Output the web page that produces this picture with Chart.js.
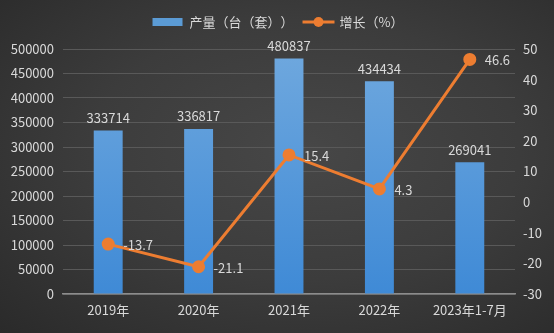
<!DOCTYPE html>
<html>
<head>
<meta charset="utf-8">
<script src="https://cdn.jsdelivr.net/npm/chart.js@4/dist/chart.umd.min.js"></script>
<style>
  html, body { margin: 0; padding: 0; }
  body {
    width: 554px; height: 333px; overflow: hidden;
    background: radial-gradient(ellipse at 55% 45%, #474747 0%, #3c3c3c 50%, #2a2a2a 100%);
  }
  canvas { display: block; text-spacing-trim: space-all; }
</style>
</head>
<body>
<canvas id="chart" width="554" height="333"></canvas>
<script>
const categories = ['2019年', '2020年', '2021年', '2022年', '2023年1-7月'];
const output = [333714, 336817, 480837, 434434, 269041];
const growth = [-13.7, -21.1, 15.4, 4.3, 46.6];
const leftTicks = [0, 50000, 100000, 150000, 200000, 250000, 300000, 350000, 400000, 450000, 500000];
const rightTicks = [-30, -20, -10, 0, 10, 20, 30, 40, 50];
const seriesNames = ['产量（台（套））', '增长（%）'];

const textColor = '#d9d9d9';
const barColor = '#5b9bd5';
const lineColor = '#ed7d31';
const fontFamily = '"Noto Sans CJK SC", "Microsoft YaHei", sans-serif';

// data labels above bars and beside line points
const valueLabels = {
    id: 'valueLabels',
    afterDatasetsDraw(chart) {
        const ctx = chart.ctx;
        ctx.save();
        ctx.fillStyle = textColor;
        ctx.font = '13px ' + fontFamily;
        chart.getDatasetMeta(0).data.forEach((bar, i) => {
            ctx.textAlign = 'center';
            ctx.textBaseline = 'bottom';
            ctx.fillText(String(output[i]), bar.x, bar.y - 6);
        });
        chart.getDatasetMeta(1).data.forEach((pt, i) => {
            ctx.textAlign = 'left';
            ctx.textBaseline = 'middle';
            ctx.fillText(String(growth[i]), pt.x + 15, pt.y + 1);
        });
        ctx.restore();
    }
};

// hand-drawn legend (bar swatch + line with marker), centred at the top
const topLegend = {
    id: 'topLegend',
    afterDraw(chart) {
        const ctx = chart.ctx;
        ctx.save();
        ctx.font = '13px ' + fontFamily;
        ctx.textBaseline = 'middle';
        ctx.textAlign = 'left';
        const iconW = 32, gap = 5, itemGap = 9;
        const w0 = ctx.measureText(seriesNames[0]).width;
        const w1 = ctx.measureText(seriesNames[1]).width;
        const total = iconW + gap + w0 + itemGap + iconW + gap + w1;
        let x = 278 - total / 2;
        const y = 22;
        ctx.fillStyle = barColor;
        ctx.fillRect(x, y - 4, 30, 8);
        x += iconW + gap;
        ctx.fillStyle = textColor;
        ctx.fillText(seriesNames[0], x, y);
        x += w0 + itemGap;
        ctx.strokeStyle = lineColor;
        ctx.lineWidth = 3;
        ctx.beginPath(); ctx.moveTo(x, y); ctx.lineTo(x + iconW, y); ctx.stroke();
        ctx.fillStyle = lineColor;
        ctx.beginPath(); ctx.arc(x + iconW / 2, y, 5, 0, Math.PI * 2); ctx.fill();
        x += iconW + gap;
        ctx.fillStyle = textColor;
        ctx.fillText(seriesNames[1], x, y);
        ctx.restore();
    }
};

const barGradient = (context) => {
    const area = context.chart.chartArea;
    if (!area) return barColor;
    const g = context.chart.ctx.createLinearGradient(0, area.top, 0, area.bottom);
    g.addColorStop(0, '#6fa8de');
    g.addColorStop(1, '#3f8ad6');
    return g;
};

new Chart(document.getElementById('chart'), {
    data: {
        labels: categories,
        datasets: [
            {
                type: 'bar',
                label: seriesNames[0],
                data: output,
                backgroundColor: barGradient,
                yAxisID: 'y',
                categoryPercentage: 0.64,
                barPercentage: 0.5,
                order: 2
            },
            {
                type: 'line',
                label: seriesNames[1],
                data: growth,
                borderColor: lineColor,
                backgroundColor: lineColor,
                borderWidth: 3,
                pointRadius: 5,
                pointHoverRadius: 5,
                tension: 0,
                yAxisID: 'y1',
                order: 1
            }
        ]
    },
    options: {
        responsive: false,
        animation: false,
        devicePixelRatio: 1,
        layout: { padding: { top: 49, bottom: 11 } },
        plugins: {
            tooltip: { enabled: false },
            legend: { display: false }
        },
        scales: {
            x: {
                grid: { display: false },
                border: { color: '#8c8c8c', width: 1.5 },
                afterFit(axis) { axis.height = 28; },
                ticks: { color: textColor, font: { size: 13, family: fontFamily }, padding: 0, maxRotation: 0, autoSkip: false }
            },
            y: {
                position: 'left',
                min: 0,
                max: 500000,
                afterBuildTicks(axis) { axis.ticks = leftTicks.map(v => ({ value: v })); },
                afterFit(axis) { axis.width = 63; },
                grid: { color: '#595959', drawTicks: false },
                border: { display: false },
                ticks: { color: textColor, font: { size: 13, family: fontFamily }, padding: 9, callback: v => String(v) }
            },
            y1: {
                position: 'right',
                min: -30,
                max: 50,
                afterBuildTicks(axis) { axis.ticks = rightTicks.map(v => ({ value: v })); },
                afterFit(axis) { axis.width = 39; },
                grid: { display: false, drawTicks: false },
                border: { display: false },
                ticks: { color: textColor, font: { size: 13, family: fontFamily }, padding: 8, callback: v => String(v) }
            }
        }
    },
    plugins: [valueLabels, topLegend]
});
</script>
</body>
</html>
